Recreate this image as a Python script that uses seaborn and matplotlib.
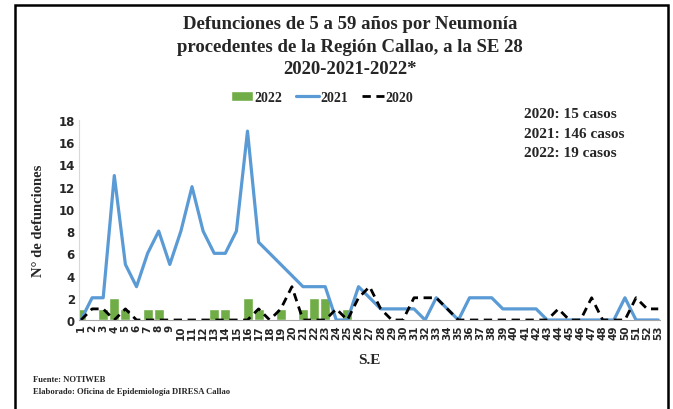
import numpy as np
import pandas as pd
import matplotlib
matplotlib.use('Agg')
import matplotlib.pyplot as plt
import seaborn as sns
from matplotlib.patches import Rectangle
from matplotlib.lines import Line2D
from matplotlib.patches import Patch

#Data
semanas = list(range(1, 54))
casos_2022 = [1, 0, 1, 2, 1, 0, 1, 1, 0, 0, 0, 0, 1, 1, 0, 2, 1, 0, 1, 0,
              1, 2, 2, 0, 1, 0, 0, 0, 0, 0, 0, 0, 0, 0, 0, 0, 0, 0, 0, 0,
              0, 0, 0, 0, 0, 0, 0, 0, 0, 0, 0, 0, 0]
casos_2021 = [0, 2, 2, 13, 5, 3, 6, 8, 5, 8, 12, 8, 6, 6, 8, 17, 7, 6, 5, 4,
              3, 3, 3, 0, 0, 3, 2, 1, 1, 1, 1, 0, 2, 1, 0, 2, 2, 2, 1, 1,
              1, 1, 0, 0, 0, 0, 0, 0, 0, 2, 0, 0, 0]
casos_2020 = [0, 1, 1, 0, 1, 0, 0, 0, 0, 0, 0, 0, 0, 0, 0, 0, 1, 0, 1, 3,
              0, 0, 0, 1, 0, 2, 3, 1, 0, 0, 2, 2, 2, 1, 0, 0, 0, 0, 0, 0,
              0, 0, 0, 1, 0, 0, 2, 0, 0, 0, 2, 1, 1]
totales = ['2020: 15 casos', '2021: 146 casos', '2022: 19 casos']

df = pd.DataFrame({'SE': semanas, '2022': casos_2022, '2021': casos_2021, '2020': casos_2020})

sns.set_style('white')
serif = ['Liberation Serif', 'DejaVu Serif']

fig = plt.figure(figsize=(6.73, 4.10), dpi=100)
ax = fig.add_axes([79 / 673, 89 / 410, 581 / 673, 200 / 410])

verde = '#70AD47'
azul = '#5B9BD5'

sns.barplot(data=df, x='SE', y='2022', native_scale=True, color=verde,
            width=0.9, ax=ax, saturation=1)
sns.lineplot(data=df, x='SE', y='2021', color=azul, linewidth=2.3, ax=ax)
sns.lineplot(data=df, x='SE', y='2020', color='black', linewidth=2,
             linestyle=(0, (3, 2)), ax=ax)

ax.set_xlim(0.82, 53.16)
ax.set_ylim(0, 18)
ax.set_yticks(range(0, 19, 2))
ax.set_xticks(semanas)
ax.set_xticklabels([str(s) for s in semanas], rotation=90, fontsize=7.5,
                   fontweight='bold', family='DejaVu Sans')
for lbl in ax.get_yticklabels():
    lbl.set_fontweight('bold')
    lbl.set_fontsize(8.5)
ax.tick_params(axis='both', length=0, pad=3)

for s in ['top', 'right']:
    ax.spines[s].set_visible(False)
ax.spines['left'].set_color('#D9D9D9')
ax.spines['bottom'].set_color('#A6A6A6')

ax.set_xlabel('S.E', family=serif, fontweight='bold', fontsize=11, labelpad=10)
ax.set_ylabel('N° de defunciones', family=serif, fontweight='bold', fontsize=10.5,
              labelpad=10)

fig.text(350 / 673, 1 - 47 / 410,
         'Defunciones de 5 a 59 años por Neumonía\n'
         'procedentes de la Región Callao, a la SE 28\n'
         '2020-2021-2022*',
         ha='center', va='center', family=serif, fontweight='bold', fontsize=13.5,
         linespacing=1.4)

for i, t in enumerate(totales):
    fig.text(524 / 673, 1 - (114 + 20 * i) / 410, t, ha='left', va='center',
             family=serif, fontweight='bold', fontsize=11)

handles = [Patch(facecolor=verde, label='2022'),
           Line2D([], [], color=azul, linewidth=2.3, label='2021'),
           Line2D([], [], color='black', linewidth=2, linestyle=(0, (3, 2)), label='2020')]
fig.legend(handles=handles, loc='center', bbox_to_anchor=(322 / 673, 1 - 98 / 410),
           ncol=3, frameon=False, handlelength=1.6, handletextpad=0.1,
           columnspacing=1.0, prop={'family': serif, 'weight': 'bold', 'size': 10})

fig.text(33 / 673, 1 - 380 / 410, 'Fuente: NOTIWEB', family=serif,
         fontweight='bold', fontsize=6.2, va='center')
fig.text(33 / 673, 1 - 392 / 410, 'Elaborado: Oficina de Epidemiología DIRESA Callao',
         family=serif, fontweight='bold', fontsize=6.2, va='center')

fig.patches.append(Rectangle((15 / 673, -0.1), 653 / 673, 1.1 - 6 / 410,
                             transform=fig.transFigure, fill=False,
                             edgecolor='black', linewidth=1.8, figure=fig))

fig.savefig('out.png', dpi=100)
